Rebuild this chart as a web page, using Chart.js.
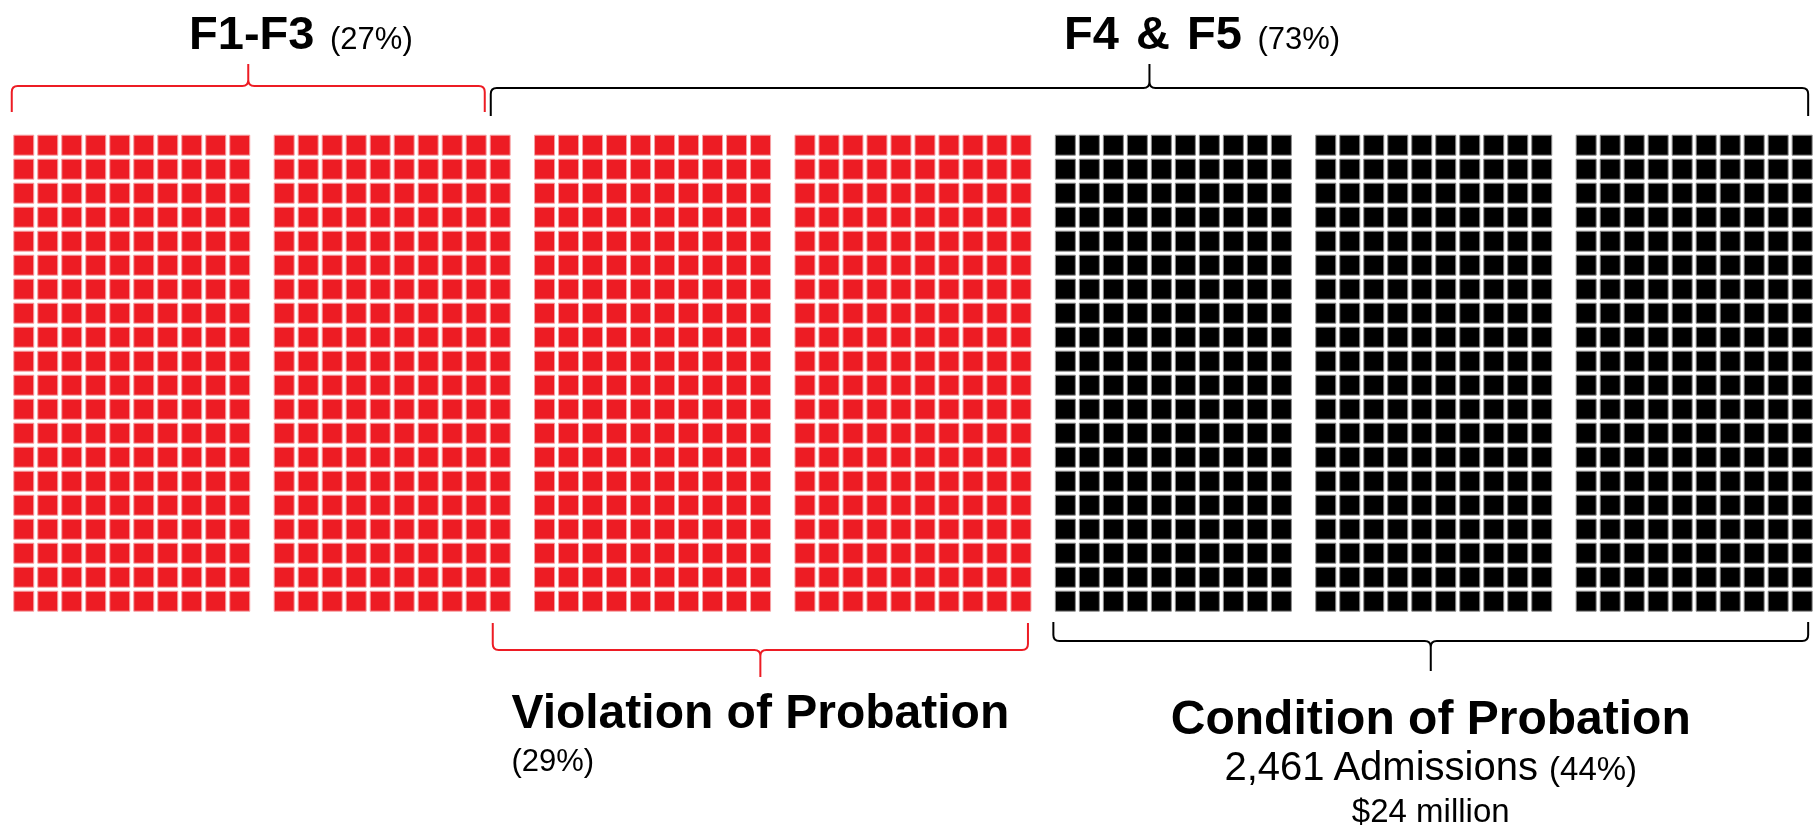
<!DOCTYPE html>
<html>
<head>
<meta charset="utf-8">
<script src="https://cdn.jsdelivr.net/npm/chart.js@4.4.1/dist/chart.umd.min.js"></script>
<style>
  body { margin: 0; background: #fff; font-family: "Liberation Sans", Arial, sans-serif; }
  #wrap { position: relative; width: 1820px; height: 830px; }
  .lbl { position: absolute; line-height: 1; white-space: nowrap; color: #000; transform: translateX(-50%); }
  .b { font-weight: bold; }
  .tail { display: inline-block; width: 0; white-space: nowrap; padding-left: 7px; }
</style>
</head>
<body>
<div id="wrap"><canvas id="waffle"></canvas></div>
<script>
// offense groups across the top
const groupLabels = ['F1-F3', 'F4 & F5'];
const groupPct = [27, 73];
// probation split along the bottom
const probationLabels = ['Violation of Probation', 'Condition of Probation'];
const probationPct = [29, 44];
const conditionAdmissions = 2461;
const conditionCost = '$24 million';

// waffle: 7 blocks of 10 columns x 20 rows
const blockCount = 7;
const blockCols = 10;
const blockRows = 20;
const blockGap = 0.85; // extra space between blocks, in columns

const RED = '#ED1C24';
const BLACK = '#000000';

// red blocks = F1-F3 + violations, rest is condition of probation
const redBlocks = Math.round((groupPct[0] + probationPct[0]) / 100 * blockCount);

const redPts = [];
const blackPts = [];
for (let b = 0; b < blockCount; b++) {
  for (let r = 0; r < blockRows; r++) {
    for (let c = 0; c < blockCols; c++) {
      const pt = { x: b * (blockCols + blockGap) + c, y: r };
      (b < redBlocks ? redPts : blackPts).push(pt);
    }
  }
}

// column count (0..70) -> x value on the scale
function colToX(k, atEnd) {
  let b = Math.floor(k / blockCols);
  if (atEnd && k > 0 && k % blockCols === 0) b -= 1;
  b = Math.min(b, blockCount - 1);
  return b * (blockCols + blockGap) + (k - b * blockCols) - 0.5;
}

const totalCols = blockCount * blockCols;
const splitCol = groupPct[0] / 100 * totalCols;
const redCols = redBlocks * blockCols;

const braces = [
  { from: 0, to: splitCol, color: RED, lineY: 86, endY: 112, tipY: 64, padL: 0, padR: 1 },
  { from: splitCol, to: totalCols, color: BLACK, lineY: 88, endY: 116, tipY: 64, padL: 5, padR: 6 },
  { from: splitCol, to: redCols, color: RED, lineY: 650, endY: 623, tipY: 677, padL: 7, padR: 5 },
  { from: redCols, to: totalCols, color: BLACK, lineY: 641, endY: 622, tipY: 671, padL: 0, padR: 6 }
];

function braceSpan(chart, br) {
  const x = chart.scales.x;
  const x1 = x.getPixelForValue(colToX(br.from, false)) + br.padL;
  const x2 = x.getPixelForValue(colToX(br.to, true)) - br.padR;
  return { x1, x2, tip: (x1 + x2) / 2 };
}

function drawBrace(ctx, x1, x2, tip, lineY, endY, tipY, color) {
  const r = 6;
  const de = Math.sign(endY - lineY);
  const dt = Math.sign(tipY - lineY);
  ctx.save();
  ctx.strokeStyle = color;
  ctx.lineWidth = 2;
  ctx.beginPath();
  ctx.moveTo(x1, endY);
  ctx.lineTo(x1, lineY + de * r);
  ctx.quadraticCurveTo(x1, lineY, x1 + r, lineY);
  ctx.lineTo(tip - r, lineY);
  ctx.quadraticCurveTo(tip, lineY, tip, lineY + dt * r);
  ctx.lineTo(tip, tipY);
  ctx.moveTo(tip, lineY + dt * r);
  ctx.quadraticCurveTo(tip, lineY, tip + r, lineY);
  ctx.lineTo(x2 - r, lineY);
  ctx.quadraticCurveTo(x2, lineY, x2, lineY + de * r);
  ctx.lineTo(x2, endY);
  ctx.stroke();
  ctx.restore();
}

const bracePlugin = {
  id: 'braces',
  afterDatasetsDraw(chart) {
    braces.forEach(br => {
      const s = braceSpan(chart, br);
      drawBrace(chart.ctx, s.x1, s.x2, s.tip, br.lineY, br.endY, br.tipY, br.color);
    });
  }
};

const xMin = -0.99;
const yMin = -6.05;

const chart = new Chart(document.getElementById('waffle'), {
  type: 'scatter',
  data: {
    datasets: [
      { data: redPts, pointStyle: 'rect', pointRadius: 14.14, backgroundColor: RED, borderColor: '#F6A3A6', borderWidth: 1 },
      { data: blackPts, pointStyle: 'rect', pointRadius: 14.14, backgroundColor: BLACK, borderColor: '#8c8c8c', borderWidth: 1 }
    ]
  },
  options: {
    responsive: true,
    maintainAspectRatio: false,
    animation: false,
    events: [],
    layout: { padding: 0, autoPadding: false },
    plugins: { legend: { display: false }, tooltip: { enabled: false } },
    scales: {
      x: { type: 'linear', display: false, min: xMin, max: xMin + 1820 / 24 },
      y: { type: 'linear', display: false, reverse: true, min: yMin, max: yMin + 830 / 24 }
    }
  },
  plugins: [bracePlugin]
});

// text labels, placed on the brace tips
const wrap = document.getElementById('wrap');
function addLabel(left, top, html, extra) {
  const d = document.createElement('div');
  d.className = 'lbl';
  d.style.left = left + 'px';
  d.style.top = top + 'px';
  if (extra) Object.assign(d.style, extra);
  d.innerHTML = html;
  wrap.appendChild(d);
}

const tips = braces.map(br => braceSpan(chart, br).tip);

groupLabels.forEach((g, i) => {
  addLabel(tips[i] + 7, 9,
    '<span class="b" style="word-spacing:4px">' + g + '</span><span class="tail" style="font-size:31px">&nbsp;(' + groupPct[i] + '%)</span>',
    { fontSize: '47px' });
});

addLabel(tips[2], 688,
  '<div class="b" style="font-size:48px">' + probationLabels[0] + '</div>' +
  '<div style="font-size:31px;margin-top:9px">(' + probationPct[0] + '%)</div>',
  { textAlign: 'left' });

addLabel(tips[3], 694,
  '<div class="b" style="font-size:48px">' + probationLabels[1] + '</div>' +
  '<div style="font-size:40px;margin-top:4px">' + conditionAdmissions.toLocaleString('en-US') +
  ' Admissions <span style="font-size:33px">(' + probationPct[1] + '%)</span></div>' +
  '<div style="font-size:33px;margin-top:8px">' + conditionCost + '</div>',
  { textAlign: 'center' });
</script>
</body>
</html>
